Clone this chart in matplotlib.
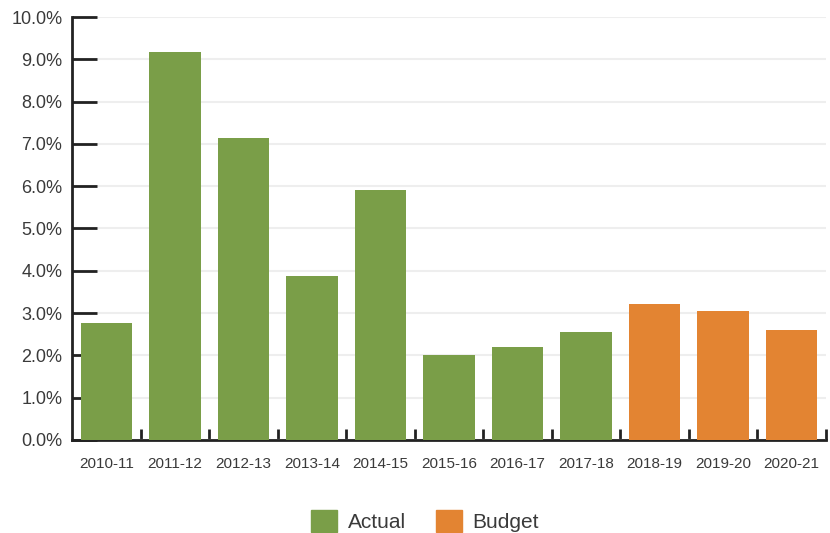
import matplotlib
matplotlib.use("Agg")
import matplotlib.pyplot as plt
import numpy as np
from matplotlib.patches import Patch

plt.rcParams['font.family'] = ['Liberation Sans', 'DejaVu Sans']

# donnees
annees = ["2010-11", "2011-12", "2012-13", "2013-14", "2014-15", "2015-16",
          "2016-17", "2017-18", "2018-19", "2019-20", "2020-21"]
valeurs = [2.77, 9.17, 7.14, 3.88, 5.91, 2.01, 2.20, 2.55, 3.21, 3.05, 2.60]
types = ["Actual"] * 8 + ["Budget"] * 3

vert = "#7A9E48"
orange = "#E38432"
couleurs = [vert if t == "Actual" else orange for t in types]

fig = plt.figure(figsize=(8.3, 5.33), dpi=100)
ax = fig.add_axes([72 / 830, 93 / 533, 754 / 830, 423 / 533])

x = np.arange(len(annees))
ax.bar(x, valeurs, width=0.75, color=couleurs, zorder=3)

ax.set_xlim(-0.5, len(annees) - 0.5)
ax.set_ylim(0, 10)
ax.set_yticks(np.arange(0, 11, 1))
ax.set_yticklabels([f"{v:.1f}%" for v in range(0, 11)], fontsize=13, color="#3a3a3a")
ax.yaxis.grid(True, color="#eeeeee", linewidth=1.5, zorder=0)

ax.set_xticks(x)
ax.set_xticklabels(annees, fontsize=11, color="#3a3a3a")
ax.tick_params(axis="x", length=0, pad=12)
ax.set_xticks(np.arange(0.5, len(annees), 1), minor=True)
ax.tick_params(axis="x", which="minor", direction="in", length=8, width=2, color="#222222")
ax.tick_params(axis="y", direction="in", length=18, width=2, color="#222222", pad=7)

for s in ["top", "right"]:
    ax.spines[s].set_visible(False)
for s in ["left", "bottom"]:
    ax.spines[s].set_linewidth(2)
    ax.spines[s].set_color("#222222")

poignees = [Patch(color=vert, label="Actual"), Patch(color=orange, label="Budget")]
fig.legend(handles=poignees, loc="center", bbox_to_anchor=(425 / 830, 12 / 533), ncol=2,
           frameon=False, fontsize=15, handlelength=1.25, handleheight=1.25,
           columnspacing=1.45, handletextpad=0.5, labelcolor="#3a3a3a")

fig.savefig("out.png", dpi=100)
